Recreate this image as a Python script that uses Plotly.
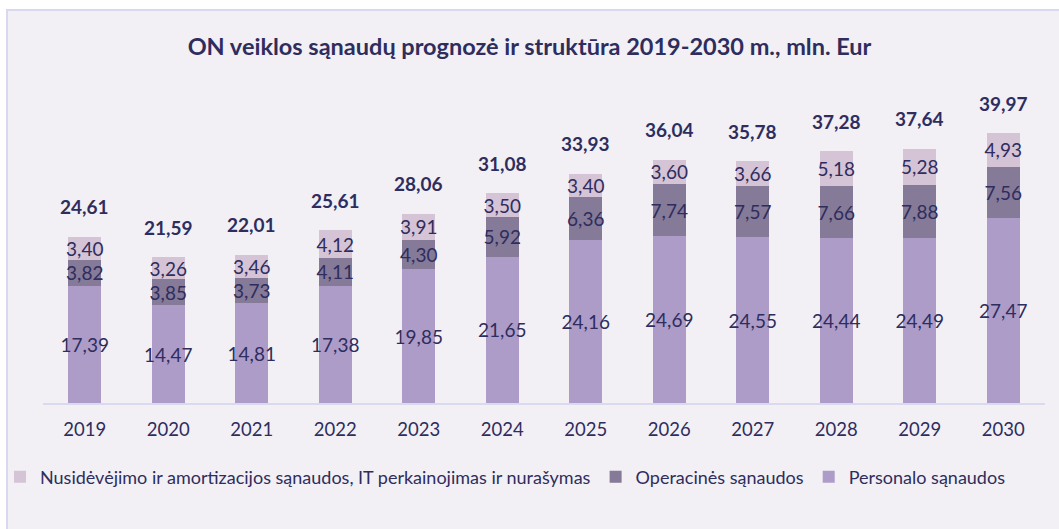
import plotly.graph_objects as go

years = [2019, 2020, 2021, 2022, 2023, 2024, 2025, 2026, 2027, 2028, 2029, 2030]
personalo = [17.39, 14.47, 14.81, 17.38, 19.85, 21.65, 24.16, 24.69, 24.55, 24.44, 24.49, 27.47]
operacines = [3.82, 3.85, 3.73, 4.11, 4.30, 5.92, 6.36, 7.74, 7.57, 7.66, 7.88, 7.56]
nusidevejimo = [3.40, 3.26, 3.46, 4.12, 3.91, 3.50, 3.40, 3.60, 3.66, 5.18, 5.28, 4.93]
totals = [24.61, 21.59, 22.01, 25.61, 28.06, 31.08, 33.93, 36.04, 35.78, 37.28, 37.64, 39.97]

names = [
    "Personalo sąnaudos",
    "Operacinės sąnaudos",
    "Nusidėvėjimo ir amortizacijos sąnaudos, IT perkainojimas ir nurašymas",
]
colors = ["#AD9CC8", "#857A98", "#D5C3D6"]

TXT = "#2E2D5E"
FONT = "Lato"


def lt(v):
    return f"{v:.2f}".replace(".", ",")


fig = go.Figure()
for vals, name, col in zip([personalo, operacines, nusidevejimo], names, colors):
    fig.add_trace(go.Bar(
        x=years, y=vals, name=name,
        width=0.4,
        marker=dict(color=col, line=dict(width=0)),
        text=[lt(v) for v in vals],
        textposition="inside",
        insidetextanchor="middle",
        textangle=0,
        constraintext="none",
        textfont=dict(size=19, color=TXT, family=FONT),
        hoverinfo="skip",
    ))

for yr, t in zip(years, totals):
    fig.add_annotation(
        x=yr, y=t, xref="x", yref="y", text="<b>" + lt(t) + "</b>",
        showarrow=False, yshift=30, yanchor="middle",
        font=dict(size=19, color=TXT, family=FONT),
    )

W, H = 1059, 529
L, R, T, B = 43, 14, 106, 126
pw = W - L - R
ph = H - T - B


def pxx(x):
    return (x - L) / pw


def pxy(y):
    return (H - B - y) / ph


fig.add_shape(
    type="rect", xref="paper", yref="paper",
    x0=pxx(7), x1=pxx(1075), y0=pxy(10), y1=pxy(545),
    fillcolor="#F2F0F4", line=dict(color="#D8D8EE", width=2), layer="below",
)

fig.update_layout(
    width=W, height=H,
    margin=dict(l=L, r=R, t=T, b=B, autoexpand=False),
    barmode="stack",
    paper_bgcolor="white",
    plot_bgcolor="rgba(0,0,0,0)",
    font=dict(family=FONT, color=TXT),
    title=dict(
        text="<b>ON veiklos sąnaudų prognozė ir struktūra 2019-2030 m., mln. Eur</b>",
        x=0.5, xanchor="center", xref="container",
        y=1 - 47 / H, yanchor="middle", yref="container",
        font=dict(size=23.5, color=TXT, family=FONT),
    ),
    xaxis=dict(
        type="linear", range=[2018.5, 2030.5],
        tickmode="array", tickvals=years, ticktext=[str(y) for y in years],
        showline=True, linecolor="#D9D9F0", linewidth=2, zeroline=False,
        showgrid=False, ticks="outside", ticklen=9, tickcolor="rgba(0,0,0,0)",
        tickfont=dict(size=18.5, color=TXT, family=FONT),
    ),
    yaxis=dict(visible=False, range=[0, 44]),
    showlegend=True,
    legend=dict(
        orientation="h", traceorder="reversed",
        x=pxx(0), xanchor="left", y=pxy(477), yanchor="middle",
        font=dict(size=18, color=TXT, family=FONT),
        bgcolor="rgba(0,0,0,0)", itemwidth=30,
    ),
)

fig.write_html("out.html", post_script="document.body.style.margin='0';",
               config={"displayModeBar": False})
